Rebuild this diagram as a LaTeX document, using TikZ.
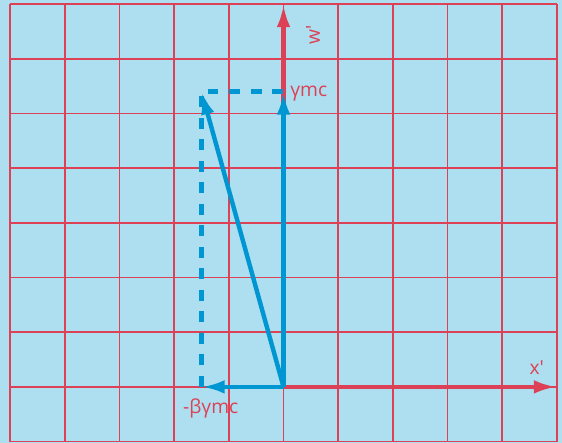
\documentclass[tikz,border=0pt]{standalone}
\usepackage{fontspec}
\setmainfont{Open Sans}
\usetikzlibrary{arrows.meta, positioning}
\definecolor{bgblue}{RGB}{173,223,240}
\definecolor{gridred}{RGB}{220,65,85}
\definecolor{vecblue}{RGB}{0,150,210}
\tikzset{
  gridline/.style={gridred, line width=0.9pt},
  axis/.style={gridred, line width=2.3pt, -{Latex[length=12pt,width=7pt]}},
  vec/.style={vecblue, line width=2.3pt, -{Latex[length=12pt,width=7pt]}},
  proj/.style={vecblue, line width=2.3pt, dash pattern=on 5.7pt off 5.5pt},
  redlab/.style={text=gridred}
}

\begin{document}
\begin{tikzpicture}[>=Latex]
                \useasboundingbox[fill=bgblue] (-0.183,-0.018) rectangle (10.091,8.073);
                \draw[gridline] (0,0) grid (10,8);

                \coordinate (O) at (5,1);
                \coordinate (xe) at (10,1);
                \coordinate (we) at (5,8);
                \coordinate (T) at (5,6.4);
                \coordinate (S) at (3.5,1);
                \coordinate (P) at (3.5,6.4);

                % axes
                \draw[axis] (O) -- (xe);
                \draw[axis] (O) -- (we);

                % components
                \draw[proj] (S) -- (P) -- (T);
                \draw[vec] (O) -- (T);
                \draw[vec] (O) -- (S);
                \draw[vec] (O) -- (P);

                \node[redlab, right, yshift=-1pt] (gmc) at (T) {γmc};
                \node[redlab] (bgmc) at (3.67,0.6) {-βγmc};
                \node[redlab] (xlab) at (9.63,1.35) {x\textquotesingle};
                \node[redlab, rotate=90] (wlab) at (5.54,7.43) {w\textquotesingle};
            \end{tikzpicture}
\end{document}
